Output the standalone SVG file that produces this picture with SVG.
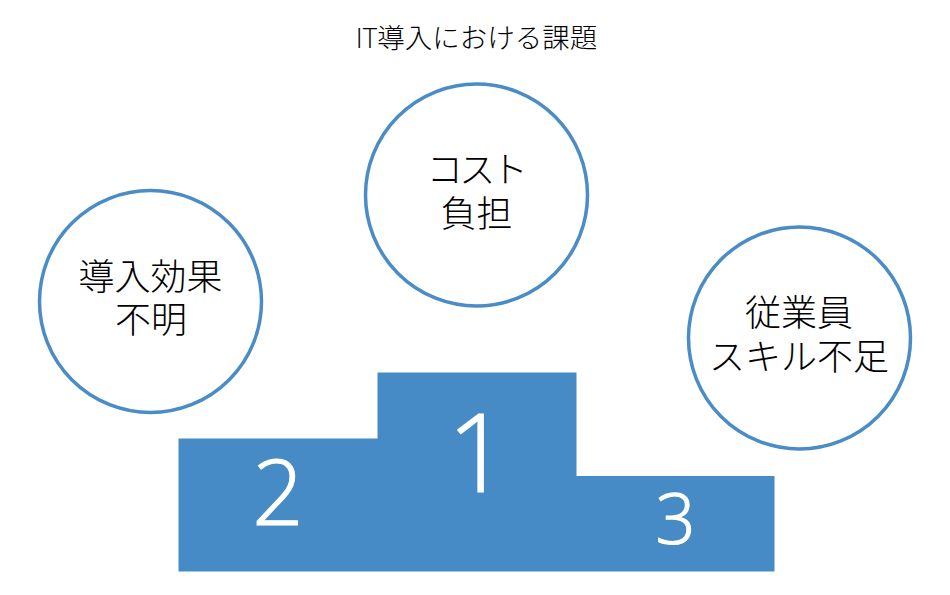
<svg xmlns="http://www.w3.org/2000/svg" width="950" height="595" viewBox="0 0 950 595">
<style>
text{font-family:"Open Sans","Noto Sans CJK JP","Noto Sans",sans-serif;text-anchor:middle;fill:#000;font-weight:300}
.c{fill:#fff;stroke:#4a8cc6;stroke-width:3.5}
.l{font-size:36px}
.n{fill:#fff;stroke:#fff;stroke-width:1.2}
</style>
<rect width="950" height="595" fill="#fff"/>
<text x="476.500" y="47.500" font-size="27.500" id="title">IT導入における課題</text>
<g id="podium">
<path d="M178.500 438.500H377.500V372.500H576.500V476H774.500V571.500H178.500Z" fill="#478bc6"/>
<text class="n" x="278" y="525" font-size="90">2</text>
<text class="n" x="478" y="492" font-size="108">1</text>
<text class="n" x="675.500" y="544" font-size="70">3</text>
</g>
<g id="node-cost"><circle class="c" cx="476.500" cy="195" r="111"/>
<text class="l" x="475.500" y="183" letter-spacing="-3.500">コスト</text><text class="l" x="476.500" y="227">負担</text></g>
<g id="node-effect"><circle class="c" cx="150.500" cy="301.500" r="111"/>
<text class="l" x="150.500" y="290">導入効果</text><text class="l" x="151" y="333">不明</text></g>
<g id="node-skill"><circle class="c" cx="799.500" cy="338" r="111"/>
<text class="l" x="799" y="326">従業員</text><text class="l" x="799" y="370">スキル不足</text></g>
<g id="connectors"></g>
</svg>
